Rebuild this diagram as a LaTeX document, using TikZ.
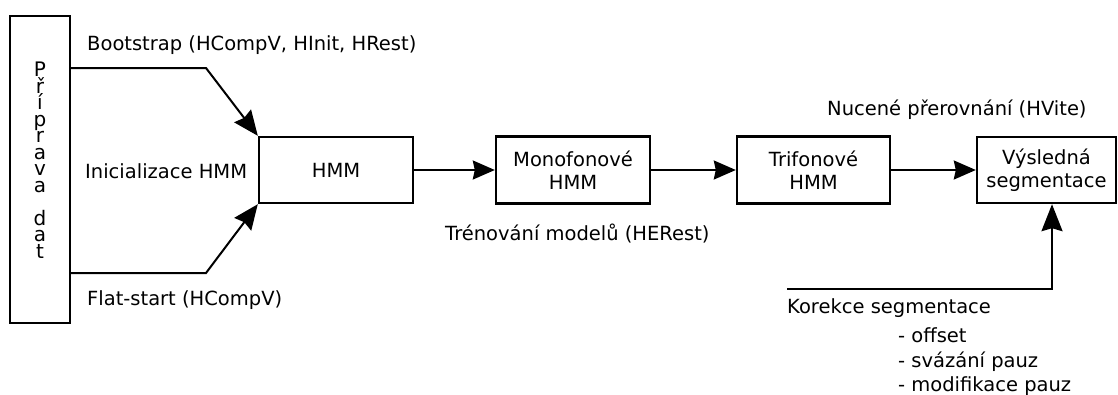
\documentclass[tikz,border=0pt]{standalone}
\usepackage{fontspec}
\setmainfont{DejaVu Sans}
\usetikzlibrary{arrows.meta}
\begin{document}
\begin{tikzpicture}[x=1pt,y=-1pt,
  font=\fontsize{19.5}{23}\selectfont,
  box/.style={draw,line width=2.4pt,inner sep=0pt,align=center},
  link/.style={line width=2pt},
  arr/.style={link,-{Stealth[length=22pt,width=19pt,inset=2pt]}},
  arrdiag/.style={link,-{Stealth[length=25pt,width=21pt,inset=2.5pt]}},
  arrup/.style={link,-{Stealth[length=27pt,width=21pt,inset=3pt]}},
  lbl/.style={anchor=base west,inner sep=0pt}]
\useasboundingbox (0,0) rectangle (1118,394);

% boxes
\node[box,minimum width=60pt,minimum height=307pt] (prep) at (40,169.5) {};
\node[inner sep=0pt,align=center,font=\fontsize{20}{16.5}\selectfont] (preptext) at (40,160)
  {P\\ř\\í\\p\\r\\a\\v\\a\\[16.5pt]d\\a\\t};
\node[box,minimum width=154pt,minimum height=66pt] (hmm) at (336,170) {HMM};
\node[box,minimum width=154pt,minimum height=67pt] (mono) at (573,170) {Monofonové\\HMM};
\node[box,minimum width=153pt,minimum height=67pt] (tri) at (813.5,170) {Trifonové\\HMM};
\node[box,minimum width=139pt,minimum height=66pt] (vys) at (1046.5,170) {Výsledná\\segmentace};

% routing points
\coordinate (bs) at (206,68);
\coordinate (fs) at (206,273);
\coordinate (kor) at (787,289);
\coordinate (korup) at (1052,289);

% connectors
\draw[arrdiag] (prep.east |- bs) -- (bs) -- (hmm.north west);
\draw[arrdiag] (prep.east |- fs) -- (fs) -- (hmm.south west);
\draw[arr] (hmm.east) -- (mono.west);
\draw[arr] (mono.east) -- (tri.west);
\draw[arr] (tri.east) -- (vys.west);
\draw[arrup] (kor) -- (korup) -- (korup |- vys.south);

% labels
\node[lbl] (lbs) at (87,50) {Bootstrap (HCompV, HInit, HRest)};
\node[lbl] (lini) at (85,178) {Inicializace HMM};
\node[lbl] (lfs) at (87,305) {Flat-start (HCompV)};
\node[lbl] (ltr) at (445,240) {Trénování modelů (HERest)};
\node[lbl] (lnuc) at (827,115) {Nucené přerovnání (HVite)};
\node[lbl] (lkor) at (787,313) {Korekce segmentace};
\node[lbl] (loff) at (898,342) {- offset};
\node[lbl] (lsv) at (898,367) {- svázání pauz};
\node[lbl] (lmod) at (898,391) {- modifikace pauz};
\end{tikzpicture}
\end{document}
